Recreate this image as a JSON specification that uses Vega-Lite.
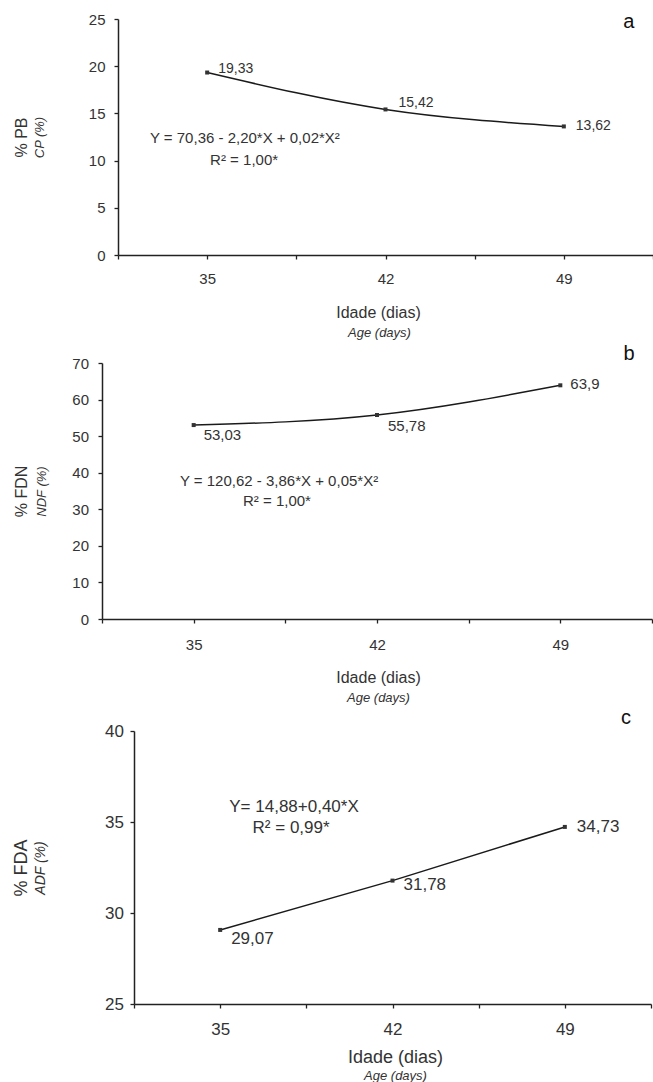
{
  "$schema": "https://vega.github.io/schema/vega-lite/v6.json",
  "padding": {"left": 12, "top": 12, "right": 0, "bottom": 0},
  "background": "white",
  "datasets": {
    "pb": [
      {"age": 35, "value": 19.33, "label": "19,33"},
      {"age": 42, "value": 15.42, "label": "15,42"},
      {"age": 49, "value": 13.62, "label": "13,62"}
    ],
    "fdn": [
      {"age": 35, "value": 53.03, "label": "53,03"},
      {"age": 42, "value": 55.78, "label": "55,78"},
      {"age": 49, "value": 63.9, "label": "63,9"}
    ],
    "fda": [
      {"age": 35, "value": 29.07, "label": "29,07"},
      {"age": 42, "value": 31.78, "label": "31,78"},
      {"age": 49, "value": 34.73, "label": "34,73"}
    ]
  },
  "bounds": "full",
  "spacing": 4,
  "vconcat": [
    {
      "width": 551,
      "height": 236,
      "data": {"name": "pb"},
      "resolve": {"axis": {"x": "independent", "y": "independent"}},
      "layer": [
        {
          "mark": {"type": "line", "interpolate": "natural", "color": "#1a1a1a", "strokeWidth": 1.5},
          "encoding": {
            "x": {"field": "age", "type": "quantitative", "scale": {"domain": [31.5, 52.5], "range": [16, 551], "nice": false, "zero": false},
              "axis": {"orient": "bottom", "title": "Idade (dias)", "values": [31.5, 35, 38.5, 42, 45.5, 49, 52.5],
                "labelExpr": "indexof([35,42,49], datum.value) >= 0 ? datum.label : ''",
                "labelFontSize": 15, "titleFontSize": 16, "labelPadding": 12, "titlePadding": 18, "titleX": 276}},
            "y": {"field": "value", "type": "quantitative", "scale": {"domain": [0, 25], "nice": false, "zero": false},
              "axis": {"orient": "left", "offset": -16, "title": "CP (%)", "values": [0, 5, 10, 15, 20, 25],
                "labelFontSize": 15, "labelPadding": 9, "titleFontSize": 13, "titleFontStyle": "italic", "titlePadding": 42}}
          }
        },
        {
          "mark": {"type": "point", "shape": "square", "filled": true, "size": 16, "color": "#333", "opacity": 1},
          "encoding": {
            "x": {"field": "age", "type": "quantitative",
              "axis": {"orient": "bottom", "title": "Age (days)", "labels": false, "ticks": false, "domain": false,
                "titleFontSize": 13, "titleFontStyle": "italic", "titlePadding": 71, "titleX": 277}},
            "y": {"field": "value", "type": "quantitative",
              "axis": {"orient": "left", "offset": -16, "title": "% PB", "labels": false, "ticks": false, "domain": false,
                "titleFontSize": 16, "titlePadding": 89}}
          }
        },
        {
          "transform": [{"filter": "datum.age == 35"}],
          "mark": {"type": "text", "align": "left", "baseline": "middle", "dx": 11, "dy": -4, "fontSize": 14, "color": "#333"},
          "encoding": {"x": {"field": "age", "type": "quantitative", "axis": null}, "y": {"field": "value", "type": "quantitative", "axis": null}, "text": {"field": "label"}}
        },
        {
          "transform": [{"filter": "datum.age == 42"}],
          "mark": {"type": "text", "align": "left", "baseline": "middle", "dx": 13, "dy": -6, "fontSize": 14, "color": "#333"},
          "encoding": {"x": {"field": "age", "type": "quantitative", "axis": null}, "y": {"field": "value", "type": "quantitative", "axis": null}, "text": {"field": "label"}}
        },
        {
          "transform": [{"filter": "datum.age == 49"}],
          "mark": {"type": "text", "align": "left", "baseline": "middle", "dx": 12, "dy": 0, "fontSize": 14, "color": "#333"},
          "encoding": {"x": {"field": "age", "type": "quantitative", "axis": null}, "y": {"field": "value", "type": "quantitative", "axis": null}, "text": {"field": "label"}}
        },
        {
          "data": {"values": [{"text": "Y = 70,36 - 2,20*X + 0,02*X²"}]},
          "mark": {"type": "text", "align": "center", "baseline": "middle", "fontSize": 15, "color": "#333"},
          "encoding": {"x": {"datum": 36.48, "type": "quantitative", "axis": null}, "y": {"datum": 12.39, "type": "quantitative", "axis": null}, "text": {"field": "text"}}
        },
        {
          "data": {"values": [{"text": "R² = 1,00*"}]},
          "mark": {"type": "text", "align": "center", "baseline": "middle", "fontSize": 15, "color": "#333"},
          "encoding": {"x": {"datum": 36.45, "type": "quantitative", "axis": null}, "y": {"datum": 10.06, "type": "quantitative", "axis": null}, "text": {"field": "text"}}
        },
        {
          "data": {"values": [{"text": "a"}]},
          "mark": {"type": "text", "align": "center", "baseline": "middle", "fontSize": 20, "color": "#111"},
          "encoding": {"x": {"datum": 51.55, "type": "quantitative", "axis": null}, "y": {"datum": 24.68, "type": "quantitative", "axis": null}, "text": {"field": "text"}}
        }
      ]
    },
    {
      "width": 551,
      "height": 256,
      "data": {"name": "fdn"},
      "resolve": {"axis": {"x": "independent", "y": "independent"}},
      "layer": [
        {
          "mark": {"type": "line", "interpolate": "natural", "color": "#1a1a1a", "strokeWidth": 1.5},
          "encoding": {
            "x": {"field": "age", "type": "quantitative", "scale": {"domain": [31.5, 52.5], "range": [0, 550], "nice": false, "zero": false},
              "axis": {"orient": "bottom", "title": "Idade (dias)", "values": [31.5, 35, 38.5, 42, 45.5, 49, 52.5],
                "labelExpr": "indexof([35,42,49], datum.value) >= 0 ? datum.label : ''",
                "labelFontSize": 15, "titleFontSize": 16, "labelPadding": 14, "titlePadding": 17, "titleX": 276}},
            "y": {"field": "value", "type": "quantitative", "scale": {"domain": [0, 70], "nice": false, "zero": false},
              "axis": {"orient": "left", "title": "NDF (%)", "values": [0, 10, 20, 30, 40, 50, 60, 70],
                "labelFontSize": 15, "labelPadding": 9.5, "titleFontSize": 13, "titleFontStyle": "italic", "titlePadding": 23}}
          }
        },
        {
          "mark": {"type": "point", "shape": "square", "filled": true, "size": 16, "color": "#333", "opacity": 1},
          "encoding": {
            "x": {"field": "age", "type": "quantitative",
              "axis": {"orient": "bottom", "title": "Age (days)", "labels": false, "ticks": false, "domain": false,
                "titleFontSize": 13, "titleFontStyle": "italic", "titlePadding": 72, "titleX": 276}},
            "y": {"field": "value", "type": "quantitative",
              "axis": {"orient": "left", "title": "% FDN", "labels": false, "ticks": false, "domain": false,
                "titleFontSize": 16, "titlePadding": 73}}
          }
        },
        {
          "transform": [{"filter": "datum.age == 35"}],
          "mark": {"type": "text", "align": "left", "baseline": "middle", "dx": 10, "dy": 10, "fontSize": 15, "color": "#333"},
          "encoding": {"x": {"field": "age", "type": "quantitative", "axis": null}, "y": {"field": "value", "type": "quantitative", "axis": null}, "text": {"field": "label"}}
        },
        {
          "transform": [{"filter": "datum.age == 42"}],
          "mark": {"type": "text", "align": "left", "baseline": "middle", "dx": 11, "dy": 11, "fontSize": 15, "color": "#333"},
          "encoding": {"x": {"field": "age", "type": "quantitative", "axis": null}, "y": {"field": "value", "type": "quantitative", "axis": null}, "text": {"field": "label"}}
        },
        {
          "transform": [{"filter": "datum.age == 49"}],
          "mark": {"type": "text", "align": "left", "baseline": "middle", "dx": 10, "dy": -1, "fontSize": 15, "color": "#333"},
          "encoding": {"x": {"field": "age", "type": "quantitative", "axis": null}, "y": {"field": "value", "type": "quantitative", "axis": null}, "text": {"field": "label"}}
        },
        {
          "data": {"values": [{"text": "Y = 120,62 - 3,86*X + 0,05*X²"}]},
          "mark": {"type": "text", "align": "center", "baseline": "middle", "fontSize": 15, "color": "#333"},
          "encoding": {"x": {"datum": 38.26, "type": "quantitative", "axis": null}, "y": {"datum": 37.7, "type": "quantitative", "axis": null}, "text": {"field": "text"}}
        },
        {
          "data": {"values": [{"text": "R² = 1,00*"}]},
          "mark": {"type": "text", "align": "center", "baseline": "middle", "fontSize": 15, "color": "#333"},
          "encoding": {"x": {"datum": 38.18, "type": "quantitative", "axis": null}, "y": {"datum": 32.27, "type": "quantitative", "axis": null}, "text": {"field": "text"}}
        },
        {
          "data": {"values": [{"text": "b"}]},
          "mark": {"type": "text", "align": "center", "baseline": "middle", "fontSize": 20, "color": "#111"},
          "encoding": {"x": {"datum": 51.62, "type": "quantitative", "axis": null}, "y": {"datum": 72.48, "type": "quantitative", "axis": null}, "text": {"field": "text"}}
        }
      ]
    },
    {
      "width": 551,
      "height": 273,
      "data": {"name": "fda"},
      "resolve": {"axis": {"x": "independent", "y": "independent"}},
      "layer": [
        {
          "mark": {"type": "line", "interpolate": "linear", "color": "#1a1a1a", "strokeWidth": 1.5},
          "encoding": {
            "x": {"field": "age", "type": "quantitative", "scale": {"domain": [31.5, 52.5], "range": [32, 549], "nice": false, "zero": false},
              "axis": {"orient": "bottom", "title": "Idade (dias)", "values": [31.5, 35, 38.5, 42, 45.5, 49, 52.5],
                "labelExpr": "indexof([35,42,49], datum.value) >= 0 ? datum.label : ''",
                "labelFontSize": 17, "titleFontSize": 18, "labelPadding": 13, "titlePadding": 11, "titleX": 293}},
            "y": {"field": "value", "type": "quantitative", "scale": {"domain": [25, 40], "nice": false, "zero": false},
              "axis": {"orient": "left", "offset": -32, "title": "ADF (%)", "values": [25, 30, 35, 40],
                "labelFontSize": 17, "labelPadding": 6.5, "titleFontSize": 14, "titleFontStyle": "italic", "titlePadding": 57.5}}
          }
        },
        {
          "mark": {"type": "point", "shape": "square", "filled": true, "size": 16, "color": "#333", "opacity": 1},
          "encoding": {
            "x": {"field": "age", "type": "quantitative",
              "axis": {"orient": "bottom", "title": "Age (days)", "labels": false, "ticks": false, "domain": false,
                "titleFontSize": 13, "titleFontStyle": "italic", "titlePadding": 65, "titleX": 293}},
            "y": {"field": "value", "type": "quantitative",
              "axis": {"orient": "left", "offset": -32, "title": "% FDA", "labels": false, "ticks": false, "domain": false,
                "titleFontSize": 18, "titlePadding": 104}}
          }
        },
        {
          "transform": [{"filter": "datum.age == 35"}],
          "mark": {"type": "text", "align": "left", "baseline": "middle", "dx": 11, "dy": 9, "fontSize": 17, "color": "#333"},
          "encoding": {"x": {"field": "age", "type": "quantitative", "axis": null}, "y": {"field": "value", "type": "quantitative", "axis": null}, "text": {"field": "label"}}
        },
        {
          "transform": [{"filter": "datum.age == 42"}],
          "mark": {"type": "text", "align": "left", "baseline": "middle", "dx": 11, "dy": 4, "fontSize": 17, "color": "#333"},
          "encoding": {"x": {"field": "age", "type": "quantitative", "axis": null}, "y": {"field": "value", "type": "quantitative", "axis": null}, "text": {"field": "label"}}
        },
        {
          "transform": [{"filter": "datum.age == 49"}],
          "mark": {"type": "text", "align": "left", "baseline": "middle", "dx": 12, "dy": 0, "fontSize": 17, "color": "#333"},
          "encoding": {"x": {"field": "age", "type": "quantitative", "axis": null}, "y": {"field": "value", "type": "quantitative", "axis": null}, "text": {"field": "label"}}
        },
        {
          "data": {"values": [{"text": "Y= 14,88+0,40*X"}]},
          "mark": {"type": "text", "align": "center", "baseline": "middle", "fontSize": 17, "color": "#333"},
          "encoding": {"x": {"datum": 38.0, "type": "quantitative", "axis": null}, "y": {"datum": 35.82, "type": "quantitative", "axis": null}, "text": {"field": "text"}}
        },
        {
          "data": {"values": [{"text": "R² = 0,99*"}]},
          "mark": {"type": "text", "align": "center", "baseline": "middle", "fontSize": 17, "color": "#333"},
          "encoding": {"x": {"datum": 37.88, "type": "quantitative", "axis": null}, "y": {"datum": 34.67, "type": "quantitative", "axis": null}, "text": {"field": "text"}}
        },
        {
          "data": {"values": [{"text": "c"}]},
          "mark": {"type": "text", "align": "center", "baseline": "middle", "fontSize": 20, "color": "#111"},
          "encoding": {"x": {"datum": 51.48, "type": "quantitative", "axis": null}, "y": {"datum": 40.71, "type": "quantitative", "axis": null}, "text": {"field": "text"}}
        }
      ]
    }
  ],
  "config": {
    "font": "Liberation Sans",
    "view": {"stroke": null},
    "axis": {
      "grid": false,
      "domainColor": "#222",
      "domainWidth": 1.5,
      "tickColor": "#222",
      "tickWidth": 1.3,
      "tickSize": 4,
      "labelColor": "#333",
      "titleColor": "#333",
      "labelFont": "Liberation Sans",
      "titleFont": "Liberation Sans",
      "titleFontWeight": "normal",
      "labelFlush": false,
      "labelOverlap": false
    }
  }
}
